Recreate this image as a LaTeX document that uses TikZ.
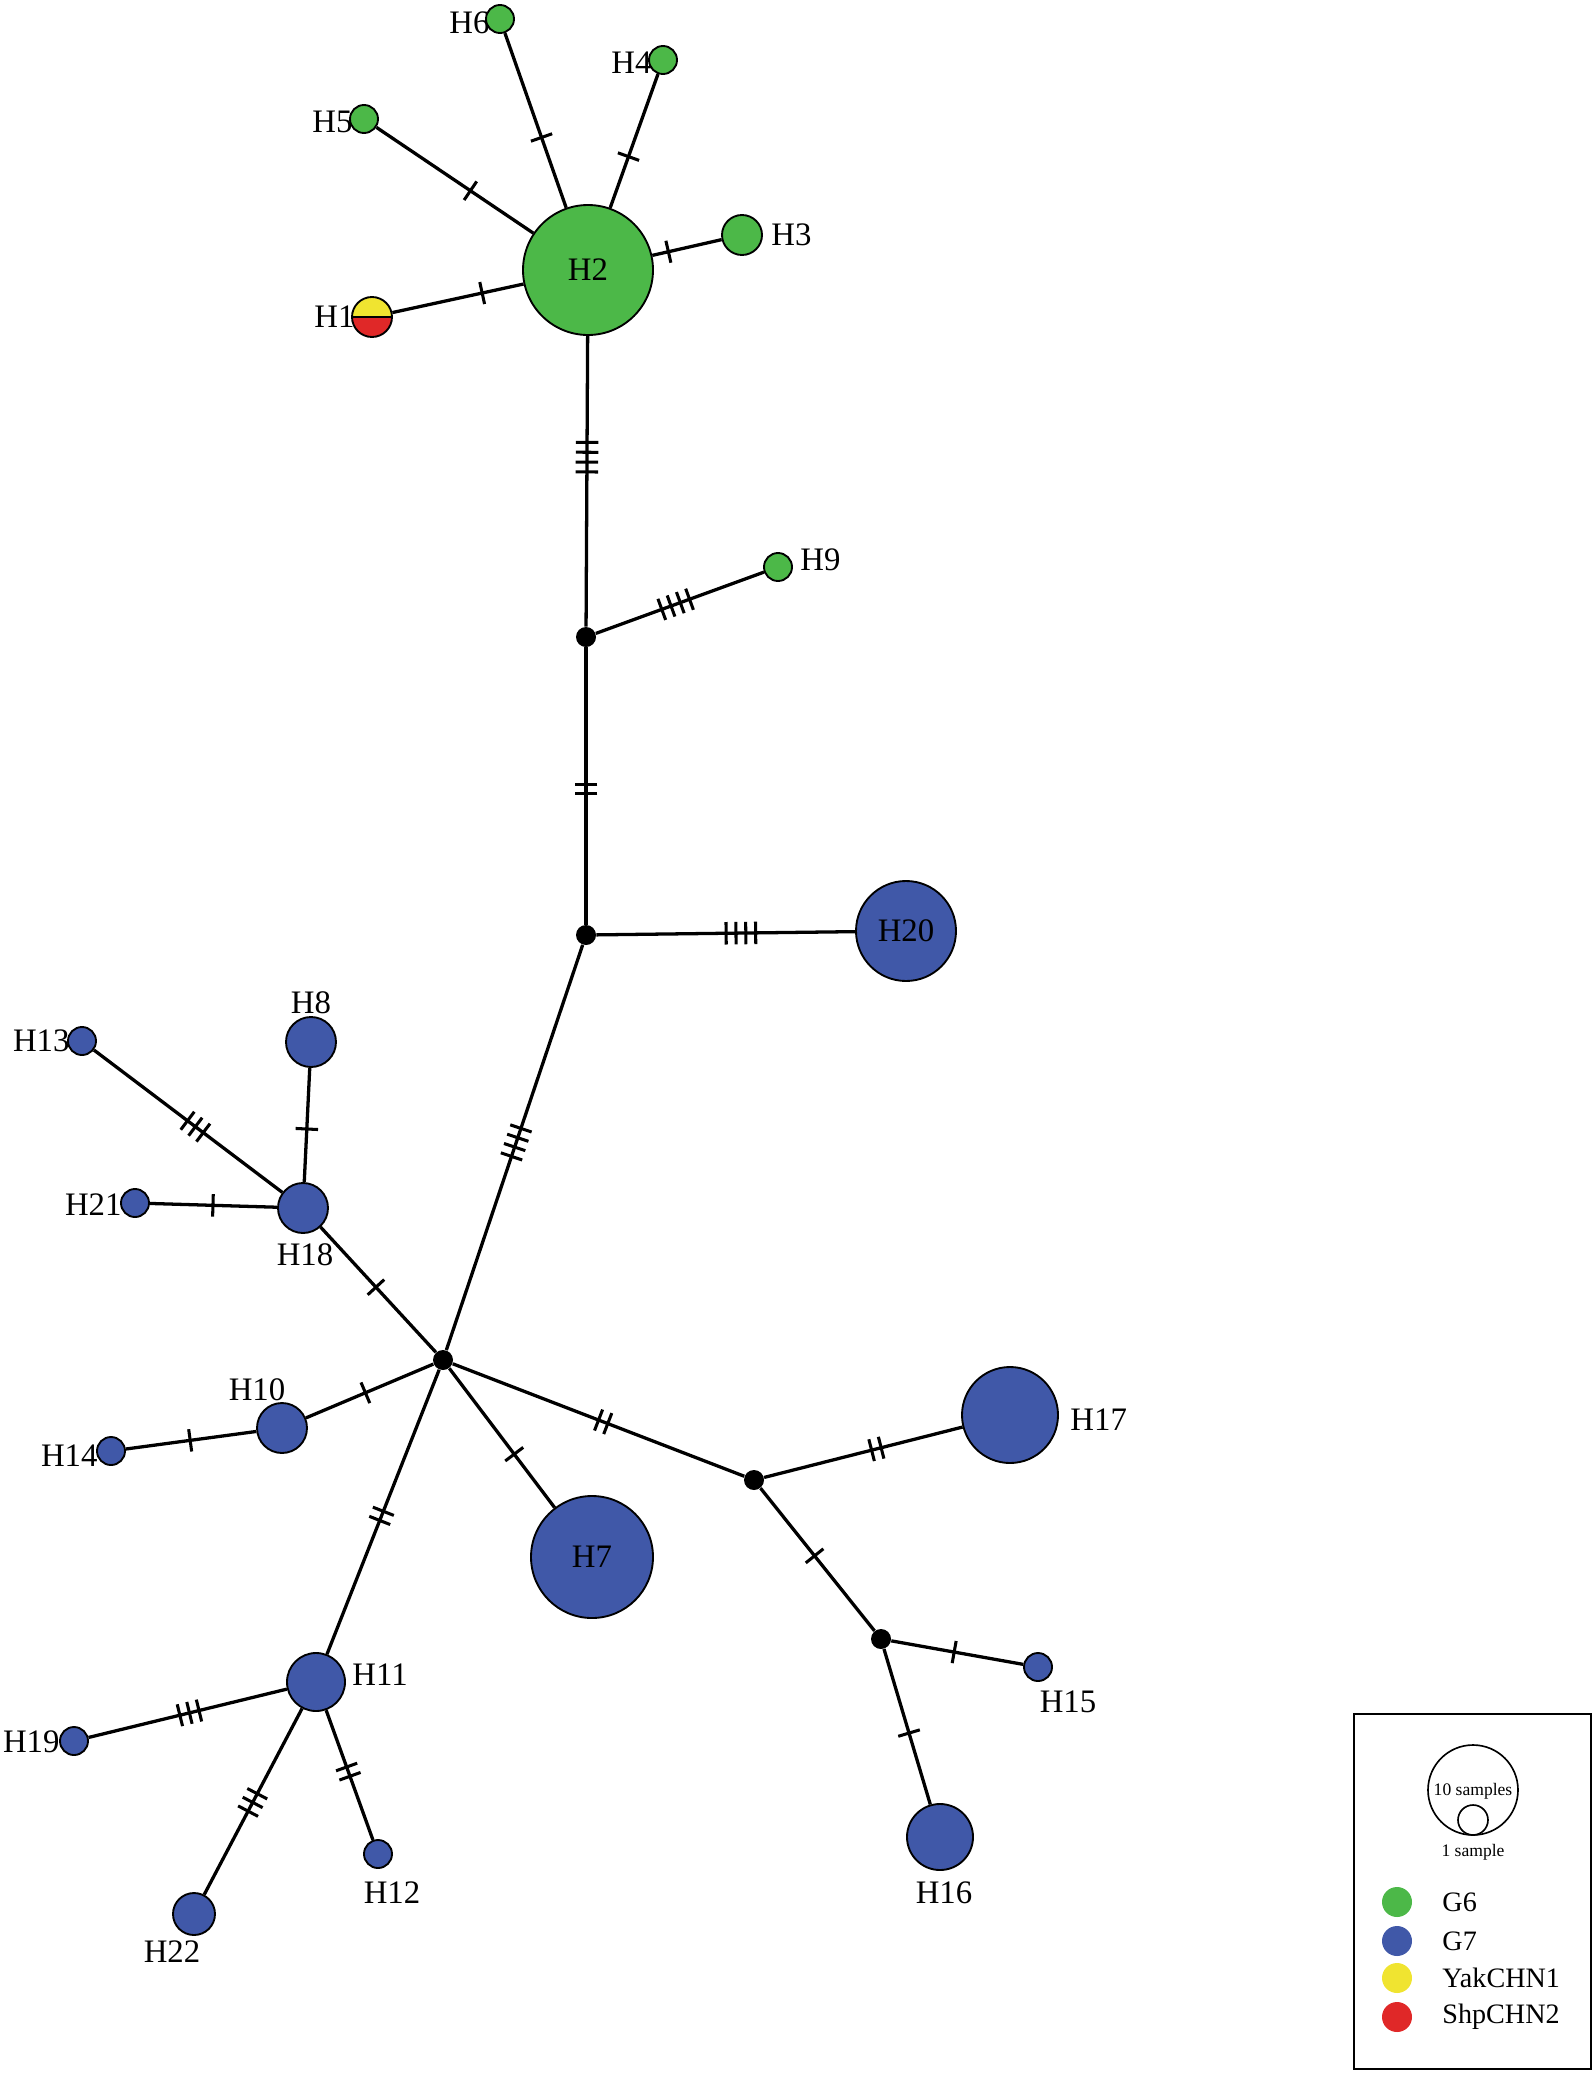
\documentclass[tikz,border=0pt]{standalone}
\usepackage{fontspec}
\setmainfont{Liberation Serif}
\usetikzlibrary{calc}
\definecolor{hgreen}{RGB}{76,184,72}
\definecolor{hblue}{RGB}{64,88,168}
\definecolor{hyellow}{RGB}{240,228,48}
\definecolor{hred}{RGB}{224,40,40}
\tikzset{
  hap/.style={circle, draw=black, line width=0.8pt, inner sep=0pt},
  jn/.style={circle, fill=black, inner sep=0pt, minimum size=0.3cm},
  lbl/.style={inner sep=0pt, font=\fontsize{14}{16}\selectfont},
  lgd/.style={inner sep=0pt, font=\fontsize{12}{14}\selectfont},
  sml/.style={inner sep=0pt, font=\fontsize{7.5}{9}\selectfont},
  edge/.style={line width=1.4pt},
  tk/.style={line width=1.3pt},
}
\newcommand{\hnode}[5]{\node[hap, fill=#5, minimum size={2*#4*0.015cm}] (#1) at (#2,#3) {};}
\newcommand{\mticks}[4]{%
  \coordinate (tP) at ($(#1)!#3!(#2)$);
  \foreach \k in {1,...,#4}{%
    \pgfmathsetmacro{\off}{(\k-(#4+1)/2)*4.2}%
    \coordinate (tQ) at ($(tP)!\off pt!(#2)$);
    \draw[tk] ($(tQ)!4.8pt!90:(#2)$) -- ($(tQ)!4.8pt!-90:(#2)$);
  }}
\begin{document}
\begin{tikzpicture}[x=0.015cm, y=-0.015cm]
\useasboundingbox (0,0) rectangle (1595,2074);

% labels that sit under circles
\node[lbl, anchor=east] (lH6) at (490,23) {H6};
\node[lbl, anchor=east] (lH4) at (652,63) {H4};
\node[lbl, anchor=east] (lH5) at (353,122) {H5};
\node[lbl, anchor=east] (lH1) at (355,317) {H1};
\node[lbl, anchor=east] (lH13) at (70,1041) {H13};
\node[lbl, anchor=east] (lH21) at (122,1205) {H21};
\node[lbl, anchor=east] (lH14) at (98,1456) {H14};
\node[lbl, anchor=east] (lH19) at (60,1742) {H19};

% haplotype circles
\hnode{H2}{588}{270}{65}{hgreen}
\hnode{H6}{500}{19}{14}{hgreen}
\hnode{H4}{663}{60}{14}{hgreen}
\hnode{H5}{364}{119}{14}{hgreen}
\hnode{H3}{742}{235}{20}{hgreen}
\hnode{H9}{778}{567}{14}{hgreen}
\node[hap, minimum size={2*20*0.015cm},
  path picture={
    \fill[hyellow] (path picture bounding box.north west) rectangle (path picture bounding box.east);
    \fill[hred] (path picture bounding box.west) rectangle (path picture bounding box.south east);
    \draw[line width=0.8pt] (path picture bounding box.west) -- (path picture bounding box.east);
  }] (H1) at (372,317) {};
\hnode{H20}{906}{931}{50}{hblue}
\hnode{H8}{311}{1042}{25}{hblue}
\hnode{H13}{82}{1041}{14}{hblue}
\hnode{H21}{135}{1203}{14}{hblue}
\hnode{H18}{303}{1208}{25}{hblue}
\hnode{H10}{282}{1428}{25}{hblue}
\hnode{H14}{111}{1451}{14}{hblue}
\hnode{H7}{592}{1557}{61}{hblue}
\hnode{H17}{1010}{1415}{48}{hblue}
\hnode{H15}{1038}{1667}{14}{hblue}
\hnode{H16}{940}{1837}{33}{hblue}
\hnode{H11}{316}{1682}{29}{hblue}
\hnode{H19}{74}{1741}{14}{hblue}
\hnode{H22}{194}{1914}{21}{hblue}
\hnode{H12}{378}{1854}{14}{hblue}

% median vectors
\node[jn] (J1) at (586,637) {};
\node[jn] (J2) at (586,935) {};
\node[jn] (J3) at (443,1360) {};
\node[jn] (J4) at (754,1480) {};
\node[jn] (J5) at (881,1639) {};

% other labels
\node[lbl] at (H2) {H2};
\node[lbl] at (H20) {H20};
\node[lbl] at (H7) {H7};
\node[lbl, anchor=west] (lH3) at (771,235) {H3};
\node[lbl, anchor=west] (lH9) at (800,560) {H9};
\node[lbl] (lH8) at (311,1003) {H8};
\node[lbl] (lH18) at (305,1255) {H18};
\node[lbl] (lH10) at (257,1390) {H10};
\node[lbl, anchor=west] (lH17) at (1070,1420) {H17};
\node[lbl] (lH16) at (944,1893) {H16};
\node[lbl] (lH15) at (1068,1702) {H15};
\node[lbl, anchor=west] (lH11) at (352,1675) {H11};
\node[lbl] (lH22) at (172,1952) {H22};
\node[lbl] (lH12) at (392,1893) {H12};

% edges
\draw[edge] (H2) -- (H6);
\draw[edge] (H2) -- (H4);
\draw[edge] (H2) -- (H5);
\draw[edge] (H2) -- (H1);
\draw[edge] (H2) -- (H3);
\draw[edge] (H2) -- (J1);
\draw[edge] (J1) -- (H9);
\draw[edge] (J1) -- (J2);
\draw[edge] (J2) -- (H20);
\draw[edge] (J2) -- (J3);
\draw[edge] (H18) -- (H13);
\draw[edge] (H18) -- (H8);
\draw[edge] (H18) -- (H21);
\draw[edge] (J3) -- (H18);
\draw[edge] (J3) -- (H10);
\draw[edge] (H10) -- (H14);
\draw[edge] (J3) -- (H11);
\draw[edge] (J3) -- (H7);
\draw[edge] (J3) -- (J4);
\draw[edge] (J4) -- (H17);
\draw[edge] (J4) -- (J5);
\draw[edge] (J5) -- (H15);
\draw[edge] (J5) -- (H16);
\draw[edge] (H11) -- (H19);
\draw[edge] (H11) -- (H22);
\draw[edge] (H11) -- (H12);

% mutation ticks
\mticks{H2}{H6}{0.528}{1}
\mticks{H2}{H4}{0.540}{1}
\mticks{H2}{H5}{0.525}{1}
\mticks{H2}{H1}{0.490}{1}
\mticks{H2}{H3}{0.522}{1}
\mticks{H2}{J1}{0.510}{4}
\mticks{J1}{H9}{0.467}{4}
\mticks{J1}{J2}{0.510}{2}
\mticks{J2}{H20}{0.484}{4}
\mticks{J2}{J3}{0.488}{4}
\mticks{H18}{H13}{0.487}{3}
\mticks{H18}{H8}{0.476}{1}
\mticks{H18}{H21}{0.536}{1}
\mticks{J3}{H18}{0.479}{1}
\mticks{J3}{H10}{0.482}{1}
\mticks{H10}{H14}{0.537}{1}
\mticks{J3}{H11}{0.484}{2}
\mticks{J3}{H7}{0.478}{1}
\mticks{J3}{J4}{0.515}{2}
\mticks{J4}{H17}{0.478}{2}
\mticks{J4}{J5}{0.477}{1}
\mticks{J5}{H15}{0.466}{1}
\mticks{J5}{H16}{0.475}{1}
\mticks{H11}{H19}{0.523}{3}
\mticks{H11}{H22}{0.519}{3}
\mticks{H11}{H12}{0.521}{2}

% legend
\node[draw, line width=0.7pt, inner sep=0pt, minimum width={237*0.015cm}, minimum height={355*0.015cm}] (legend) at (1472.5,1891.5) {};
\node[circle, draw, line width=0.7pt, inner sep=0pt, minimum size={90*0.015cm}] (ten) at (1473,1790) {};
\node[circle, draw, line width=0.7pt, inner sep=0pt, minimum size={30*0.015cm}] (one) at (1473,1820) {};
\node[sml] (tTen) at (1473,1791) {10 samples};
\node[sml] (tOne) at (1473,1852) {1 sample};
\node[circle, fill=hgreen, inner sep=0pt, minimum size={30*0.015cm}] (kG6) at (1397,1902) {};
\node[circle, fill=hblue, inner sep=0pt, minimum size={30*0.015cm}] (kG7) at (1397,1941) {};
\node[circle, fill=hyellow, inner sep=0pt, minimum size={30*0.015cm}] (kYak) at (1397,1978) {};
\node[circle, fill=hred, inner sep=0pt, minimum size={30*0.015cm}] (kShp) at (1397,2017) {};
\node[lgd, anchor=west] at (1442,1902) {G6};
\node[lgd, anchor=west] at (1442,1941) {G7};
\node[lgd, anchor=west] at (1442,1978) {YakCHN1};
\node[lgd, anchor=west] at (1442,2017) {ShpCHN2};
\end{tikzpicture}
\end{document}
